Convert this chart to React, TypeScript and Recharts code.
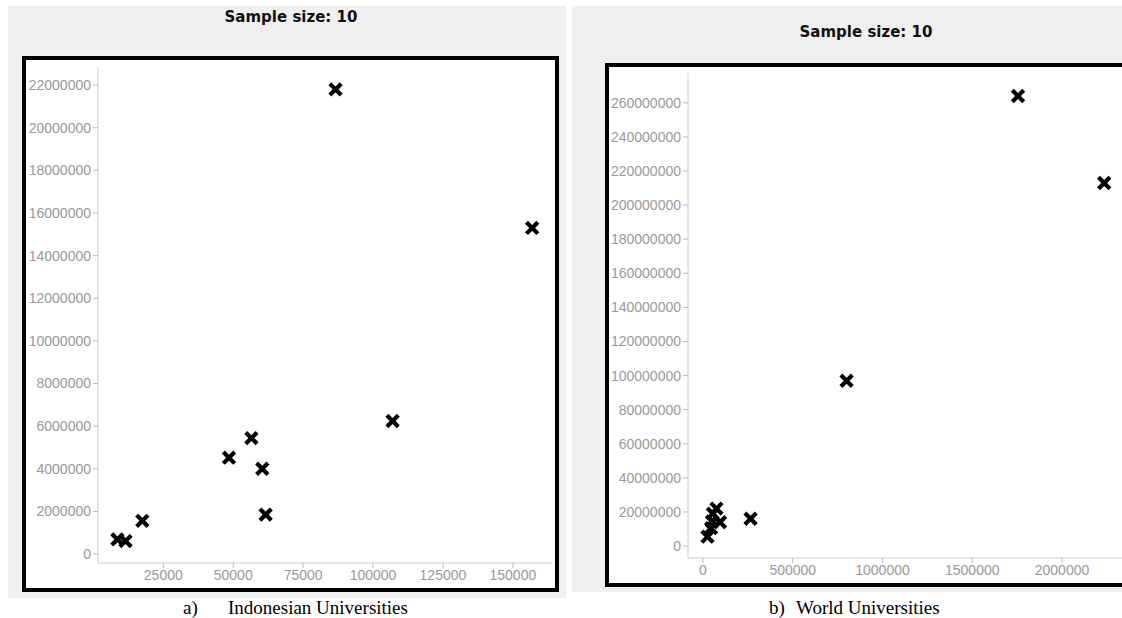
import React from 'react'
import { ScatterChart, Scatter, XAxis, YAxis } from 'recharts'

// a) Indonesian universities
const indoX = [8600, 11500, 17500, 48500, 56500, 60400, 61600, 86600, 107000, 156900]
const indoY = [690000, 610000, 1560000, 4520000, 5440000, 4000000, 1850000, 21800000, 6240000, 15300000]
const indoXTicks = [25000, 50000, 75000, 100000, 125000, 150000]
const indoYTicks = [0, 2000000, 4000000, 6000000, 8000000, 10000000, 12000000, 14000000, 16000000, 18000000, 20000000, 22000000]

// b) World universities
const worldX = [25000, 45000, 50000, 55000, 75000, 95000, 265000, 800000, 1755000, 2235000]
const worldY = [5500000, 10500000, 14500000, 19000000, 22000000, 14000000, 16000000, 97000000, 264000000, 213000000]
const worldXTicks = [0, 500000, 1000000, 1500000, 2000000]
const worldYTicks = [0, 20000000, 40000000, 60000000, 80000000, 100000000, 120000000, 140000000, 160000000, 180000000, 200000000, 220000000, 240000000, 260000000]

const title = 'Sample size: 10'

const tickStyle = { fill: '#999', fontSize: 14, fontFamily: 'Liberation Sans, Arial, sans-serif' }

const XMark = (props: any) => {
  const { cx, cy } = props
  if (cx == null || cy == null) return null
  const s = 4.2
  return (
    <path
      d={`M${cx - s},${cy - s}L${cx + s},${cy + s}M${cx + s},${cy - s}L${cx - s},${cy + s}`}
      stroke="#000"
      strokeWidth={4.2}
      strokeLinecap="square"
    />
  )
}

interface PlotProps {
  xs: number[]
  ys: number[]
  xTicks: number[]
  yTicks: number[]
  xDomain: [number, number]
  yDomain: [number, number]
  width: number
  height: number
  yAxisWidth: number
  margin: { top: number; right: number; bottom: number; left: number }
}

function Plot({ xs, ys, xTicks, yTicks, xDomain, yDomain, width, height, yAxisWidth, margin }: PlotProps) {
  const data = xs.map((x, i) => ({ x, y: ys[i] }))
  return (
    <ScatterChart width={width} height={height} margin={margin}>
      <XAxis
        type="number"
        dataKey="x"
        domain={xDomain}
        ticks={xTicks}
        interval={0}
        allowDataOverflow
        height={20}
        tickSize={5}
        tickMargin={2}
        axisLine={{ stroke: '#ccc' }}
        tickLine={{ stroke: '#bbb' }}
        tick={tickStyle}
      />
      <YAxis
        type="number"
        dataKey="y"
        domain={yDomain}
        ticks={yTicks}
        interval={0}
        allowDataOverflow
        width={yAxisWidth}
        tickSize={5}
        tickMargin={2}
        axisLine={{ stroke: '#ccc' }}
        tickLine={{ stroke: '#bbb' }}
        tick={tickStyle}
      />
      <Scatter data={data} shape={XMark} isAnimationActive={false} />
    </ScatterChart>
  )
}

const abs = (left: number, top: number, width: number, height: number): React.CSSProperties => ({
  position: 'absolute', left, top, width, height, boxSizing: 'border-box',
})

export default function App() {
  const titleFont: React.CSSProperties = {
    fontFamily: 'DejaVu Sans, Verdana, sans-serif', fontWeight: 'bold', fontSize: 15,
    textAlign: 'center', color: '#111', whiteSpace: 'nowrap', lineHeight: '18px',
  }
  const caption: React.CSSProperties = {
    position: 'absolute', fontFamily: 'Liberation Serif, Times New Roman, serif', fontSize: 19,
    color: '#000', whiteSpace: 'nowrap', lineHeight: '19px',
  }
  return (
    <div style={{ position: 'fixed', left: 0, top: 0, width: 1122, height: 618, overflow: 'hidden', background: '#fff' }}>
      {/* captions sit under the grey panels */}
      <div style={{ ...caption, left: 183, top: 598 }}>a)</div>
      <div style={{ ...caption, left: 228, top: 598 }}>Indonesian Universities</div>
      <div style={{ ...caption, left: 769, top: 598 }}>b)</div>
      <div style={{ ...caption, left: 796, top: 598 }}>World Universities</div>

      {/* left panel */}
      <div style={{ ...abs(8, 6, 558, 592), background: '#efefef' }} />
      <div style={{ ...abs(141, 8, 300, 18), ...titleFont }}>{title}</div>
      <div style={{ ...abs(22, 56, 537, 536), border: '4px solid #000', background: '#fff' }} />
      <div style={abs(26, 60, 529, 528)}>
        <Plot
          xs={indoX} ys={indoY} xTicks={indoXTicks} yTicks={indoYTicks}
          xDomain={[1650, 164000]} yDomain={[-420000, 22850000]}
          width={529} height={528} yAxisWidth={72}
          margin={{ top: 7, right: 3, bottom: 5, left: 0 }}
        />
      </div>

      {/* right panel */}
      <div style={{ ...abs(572, 6, 600, 586), background: '#efefef' }} />
      <div style={{ ...abs(716, 23, 300, 18), ...titleFont }}>{title}</div>
      <div style={{ ...abs(605, 63, 600, 524), border: '4px solid #000', background: '#fff' }} />
      <div style={abs(609, 67, 551, 516)}>
        <Plot
          xs={worldX} ys={worldY} xTicks={worldXTicks} yTicks={worldYTicks}
          xDomain={[-83600, 2434500]} yDomain={[-7000000, 277500000]}
          width={551} height={516} yAxisWidth={79}
          margin={{ top: 6, right: 20, bottom: 5, left: 0 }}
        />
      </div>
    </div>
  )
}
